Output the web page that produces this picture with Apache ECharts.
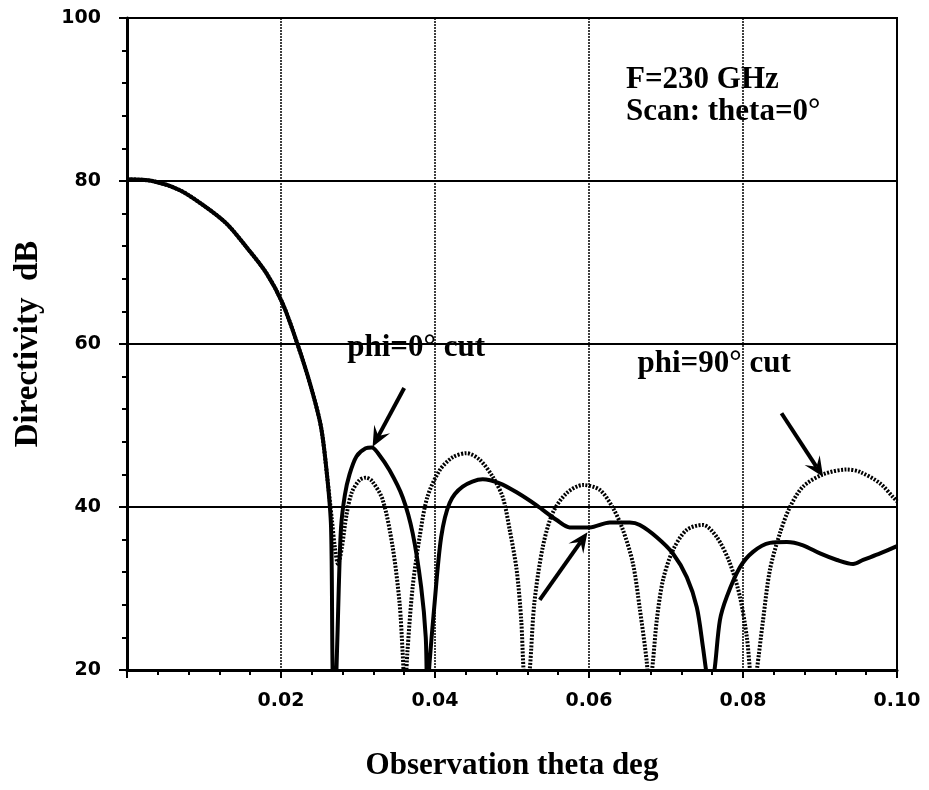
<!DOCTYPE html>
<html>
<head>
<meta charset="utf-8">
<script src="https://cdn.jsdelivr.net/npm/echarts@6/dist/echarts.min.js"></script>
<style>
  html, body { margin: 0; padding: 0; background: #fff; }
  #chart { width: 929px; height: 790px; }
</style>
</head>
<body>
<div id="chart"></div>
<script>
// x ticks and y ticks
const xTicks = [0, 0.02, 0.04, 0.06, 0.08, 0.10];
const yTicks = [20, 40, 60, 80, 100];

// phi = 0 deg cut (solid)
const phi0Cut = [
  [0, 80.2], [0.0033, 80], [0.0068, 78.9], [0.0098, 77.1], [0.0129, 74.8],
  [0.0155, 71.9], [0.0181, 68.7], [0.0202, 65], [0.0221, 60.1], [0.0239, 54.7],
  [0.0252, 49.8], [0.026, 43.7], [0.0265, 37.5], [0.0267, 20], [0.0269, 15],
  [0.0272, 20], [0.0275, 30], [0.0278, 37.5], [0.0283, 41.5], [0.0289, 44],
  [0.0298, 46.2], [0.031, 47.2], [0.0318, 47.3], [0.0326, 46.6], [0.0341, 44.5],
  [0.0358, 41.2], [0.0371, 36.8], [0.0382, 30.2], [0.0388, 24], [0.039, 17],
  [0.0393, 21], [0.0399, 27.7], [0.0408, 36.3], [0.0419, 40.5], [0.0436, 42.5],
  [0.0462, 43.4], [0.0484, 42.9], [0.0506, 41.8], [0.0532, 40.2], [0.0558, 38.4],
  [0.0575, 37.5], [0.0601, 37.5], [0.0627, 38.1], [0.0653, 38.1], [0.0666, 37.8],
  [0.0688, 36.3], [0.0709, 34.3], [0.0727, 31.4], [0.074, 27.7], [0.0748, 22.8],
  [0.0752, 20], [0.0757, 17], [0.0763, 20], [0.077, 26.1], [0.0779, 29],
  [0.0796, 32.6], [0.0813, 34.5], [0.0835, 35.6], [0.0857, 35.7], [0.0878, 35.3],
  [0.09, 34.3], [0.0922, 33.5], [0.0943, 33], [0.0956, 33.5], [0.0978, 34.3],
  [0.1, 35.2]
];

// phi = 90 deg cut (dotted)
const phi90Cut = [
  [0, 80.2], [0.0033, 80], [0.0068, 78.9], [0.0098, 77.1], [0.0129, 74.8],
  [0.0155, 71.9], [0.0181, 68.7], [0.0202, 65], [0.0221, 60.1], [0.0239, 54.7],
  [0.0252, 49.8], [0.026, 43.7], [0.0266, 38.5], [0.027, 35], [0.0274, 33],
  [0.0279, 35], [0.0285, 39], [0.0292, 41.8], [0.0302, 43.3], [0.031, 43.6],
  [0.0318, 43.2], [0.0332, 40.9], [0.0345, 35.1], [0.0354, 28.2], [0.0358, 22.1],
  [0.0361, 17], [0.0364, 22], [0.0371, 30.2], [0.038, 36.3], [0.039, 41.2],
  [0.0406, 44.5], [0.0423, 46.1], [0.0441, 46.6], [0.0458, 45.8], [0.0475, 43.7],
  [0.0488, 41.2], [0.0497, 37.2], [0.0506, 32.3], [0.0512, 26.1], [0.0515, 20],
  [0.0518, 17], [0.0523, 20], [0.0529, 28.2], [0.054, 35.1], [0.0553, 39.3],
  [0.0571, 41.7], [0.0592, 42.7], [0.0614, 42.1], [0.0631, 39.9], [0.0644, 37.2],
  [0.0657, 33.1], [0.0666, 27.5], [0.0675, 21], [0.0678, 17], [0.0683, 21],
  [0.0688, 26.1], [0.0696, 31], [0.0709, 34.7], [0.0727, 37.2], [0.0748, 37.8],
  [0.0766, 36.3], [0.0783, 33.1], [0.0796, 29], [0.0805, 24], [0.081, 19],
  [0.0813, 17], [0.0818, 20], [0.0826, 26.1], [0.0835, 32.3], [0.0848, 36.8],
  [0.0861, 40], [0.0878, 42.5], [0.0904, 44], [0.0935, 44.6], [0.0952, 44.3],
  [0.0978, 42.9], [0.0995, 41.2], [0.1, 40.7]
];

// annotations, in data coordinates
const notes = [
  { text: 'F=230 GHz', at: [0.0648, 90.5] },
  { text: 'Scan: theta=0\u00B0', at: [0.0648, 86.6] },
  { text: 'phi=0\u00B0 cut', at: [0.0286, 57.6] },
  { text: 'phi=90\u00B0 cut', at: [0.0663, 55.6] }
];
const arrows = [
  { from: [0.036, 54.6], to: [0.0319, 47.4] },
  { from: [0.085, 51.5], to: [0.0904, 43.7] },
  { from: [0.0536, 28.6], to: [0.0598, 36.9] }
];

const chart = echarts.init(document.getElementById('chart'));
const serif = '"Liberation Serif", "DejaVu Serif", serif';
const sans = '"DejaVu Sans", "Liberation Sans", sans-serif';

const option = {
  animation: false,
  backgroundColor: '#fff',
  grid: {
    left: 127, right: 32, top: 18, bottom: 120,
    show: true, borderColor: '#000', borderWidth: 2
  },
  xAxis: {
    type: 'value',
    min: xTicks[0], max: xTicks[xTicks.length - 1], interval: 0.02,
    name: 'Observation theta deg',
    nameLocation: 'middle', nameGap: 80,
    nameTextStyle: { fontFamily: serif, fontWeight: 'bold', fontSize: 31, color: '#000' },
    axisLine: { lineStyle: { color: '#000', width: 3 } },
    axisTick: { length: 8, lineStyle: { color: '#000', width: 2 } },
    minorTick: { show: true, splitNumber: 5, length: 5, lineStyle: { color: '#000', width: 2 } },
    axisLabel: {
      margin: 22, color: '#000', fontFamily: sans, fontWeight: 'bold', fontSize: 19,
      formatter: v => (v === 0 ? '' : v.toFixed(2))
    },
    splitLine: { show: true, lineStyle: { color: '#000', width: 1.5, type: [2, 1] } }
  },
  yAxis: {
    type: 'value',
    min: yTicks[0], max: yTicks[yTicks.length - 1], interval: 20,
    name: 'Directivity  dB',
    nameLocation: 'middle', nameGap: 82,
    nameTextStyle: { fontFamily: serif, fontWeight: 'bold', fontSize: 33, color: '#000' },
    axisLine: { lineStyle: { color: '#000', width: 3 } },
    axisTick: { length: 8, lineStyle: { color: '#000', width: 2 } },
    minorTick: { show: true, splitNumber: 5, length: 5, lineStyle: { color: '#000', width: 2 } },
    axisLabel: { margin: 26, color: '#000', fontFamily: sans, fontWeight: 'bold', fontSize: 19 },
    splitLine: { show: true, lineStyle: { color: '#000', width: 2 } }
  },
  series: [
    {
      name: 'phi=0 cut', type: 'line', data: phi0Cut,
      showSymbol: false, smooth: 0.3, clip: true,
      lineStyle: { color: '#000', width: 4 }
    },
    {
      name: 'phi=90 cut', type: 'line', data: phi90Cut,
      showSymbol: false, smooth: 0.3, clip: true,
      lineStyle: { color: '#000', width: 4, type: [2, 1.5] }
    }
  ]
};
chart.setOption(option);

// place annotations through the axes
const px = p => chart.convertToPixel({ gridIndex: 0 }, p);
const graphics = [];
notes.forEach(n => {
  const p = px(n.at);
  graphics.push({
    type: 'text', x: p[0], y: p[1],
    style: {
      text: n.text, fill: '#000', fontFamily: serif, fontWeight: 'bold', fontSize: 31,
      textAlign: 'left', textVerticalAlign: 'bottom'
    }
  });
});
arrows.forEach(a => {
  const s = px(a.from), t = px(a.to);
  const ang = Math.atan2(t[1] - s[1], t[0] - s[0]);
  const L = 20, W = 9;
  const bx = t[0] - L * Math.cos(ang), by = t[1] - L * Math.sin(ang);
  const nx = -Math.sin(ang), ny = Math.cos(ang);
  const notchX = t[0] - 0.6 * L * Math.cos(ang), notchY = t[1] - 0.6 * L * Math.sin(ang);
  graphics.push({
    type: 'line',
    shape: { x1: s[0], y1: s[1], x2: notchX, y2: notchY },
    style: { stroke: '#000', lineWidth: 4 }
  });
  graphics.push({
    type: 'polygon',
    shape: { points: [t, [bx + W * nx, by + W * ny], [notchX, notchY], [bx - W * nx, by - W * ny]] },
    style: { fill: '#000' }
  });
});
chart.setOption({ graphic: graphics });
</script>
</body>
</html>
